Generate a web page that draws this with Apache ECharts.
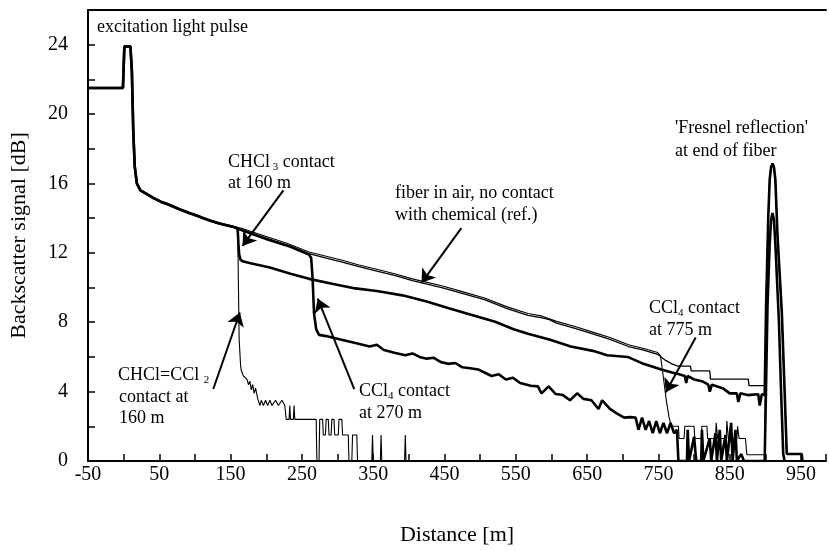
<!DOCTYPE html>
<html>
<head>
<meta charset="utf-8">
<title>OTDR backscatter traces</title>
<script src="https://cdn.jsdelivr.net/npm/echarts@6/dist/echarts.min.js"></script>
<style>
  html, body { margin: 0; padding: 0; background: #fff; }
  #chart { width: 829px; height: 551px; }
</style>
</head>
<body>
<div id="chart"></div>
<script>
// tick labels
var xTickLabels = [-50, 50, 150, 250, 350, 450, 550, 650, 750, 850, 950];
var yTickLabels = [0, 4, 8, 12, 16, 20, 24];

// common part of all traces: start level, excitation pulse, first 155 m
var commonStart = [[-50,21.5],[-1,21.5],[1,23.9],[9.5,23.9],[11.5,22.5],[13.5,19],[15.5,17],[18.5,16],[23.5,15.6],
  [32,15.4],[42,15.15],[52,14.95],[62,14.8],[79,14.5],[92,14.3],[102,14.15],[112,14.0],[122,13.85],[133,13.7],
  [143,13.6],[153,13.5],[158,13.45]];

// fiber in air (ref.)
var refTail = [[163,13.35],[178,13.15],[203,12.8],[229,12.45],[260,11.95],[284,11.7],[304,11.5],[330,11.2],[355,10.95],
  [380,10.7],[405,10.4],[418,10.27],[446,10.0],[476,9.65],[506,9.3],[537,8.8],[567,8.4],[587,8.25],[597,8.15],[607,7.95],
  [633,7.65],[660,7.3],[683,7.0],[708,6.6],[728,6.4],[749,6.15],[760,5.8],[769,5.6],[777,5.47],[795,5.47],[796,5.19],
  [822,5.19],[823,4.72],[876,4.72],[877,4.34],[899,4.34]];

// CCl4 contact at 775 m (thin, follows the reference first)
var ccl4At775Tail = [[163,13.45],[178,13.25],[203,12.9],[229,12.55],[260,12.05],[284,11.8],[304,11.6],[330,11.3],[355,11.05],
  [380,10.8],[405,10.5],[418,10.37],[446,10.1],[476,9.75],[506,9.4],[537,8.9],[567,8.5],[587,8.35],[607,8.05],[633,7.75],
  [660,7.4],[683,7.1],[708,6.7],[728,6.5],[749,6.25],[753,6.05],[757,4.8],[761,3.5],[765,2.5],[768,2.0],[778,2.0],
  [779,1.3],[786,1.3],[787,2.0],[800,2.0],[801,1.3],[810,1.3],[811,2.0],[818,2.0],[819,1.3],[830,1.3],[831,2.2],[833,1.3],
  [845,1.3],[846,2.3],[848,1.3],[860,1.3],[861,2.0],[863,1.3],[872,1.3],[874,0.36],[899,0.36]];

// CHCl3 contact at 160 m
var chcl3Tail = [[160,13.3],[161,12.5],[162,11.9],[164,11.6],[168,11.5],[178,11.4],[205,11.15],[234,10.8],[260,10.5],
  [294,10.2],[325,9.95],[355,9.8],[391,9.55],[425,9.2],[456,8.8],[486,8.45],[521,8.03],[547,7.6],[567,7.33],[597,7.0],
  [627,6.6],[658,6.35],[678,6.1],[707,6.0],[729,5.6],[754,5.28],[769,5.1],[779,5.0],[787,4.9],[789,4.5],[791,4.9],
  [800,4.7],[811,4.6],[820,4.4],[822,4.0],[825,4.4],[840,4.2],[850,3.9],[860,3.9],[862,3.4],[865,3.9],[875,3.8],
  [890,3.85],[892,3.2],[895,3.85],[899,3.8]];

// CCl4 contact at 270 m
var ccl4At270Tail = [[163,13.35],[203,12.75],[234,12.35],[260,11.9],[263,11.7],[265,10.5],[267,8.5],[270,7.6],[274,7.27],
  [284,7.2],[304,7.0],[325,6.8],[345,6.6],[355,6.7],[365,6.4],[381,6.23],[395,6.1],[405,6.2],[415,6.0],[425,5.9],
  [435,5.95],[445,5.7],[455,5.6],[465,5.65],[475,5.4],[486,5.35],[497,5.28],[506,5.1],[516,4.9],[526,5.0],[536,4.7],
  [546,4.8],[556,4.5],[571,4.34],[581,4.3],[586,3.9],[596,4.3],[606,3.86],[616,3.8],[626,3.5],[636,3.9],[645,3.58],
  [656,3.5],[666,3.0],[671,3.5],[682,3.0],[692,2.73],[702,2.5],[710,2.53],[718,2.5],[722,1.8],[727,2.5],[732,1.8],
  [737,2.3],[742,1.6],[747,2.3],[752,1.6],[757,2.2],[762,1.6],[767,2.2],[772,1.6],[776,1.8],[778,0],[790,0],[791,1.8],
  [793,0],[800,1.4],[803,0],[810,0],[811,1.8],[813,0],[822,1.3],[824,0],[830,1.6],[832,0],[836,1.8],[838,0],[844,1.5],
  [846,0],[852,2.2],[854,0],[858,1.8],[860,0],[866,0.4],[870,0],[899,0]];

// CHCl=CCl2 contact at 160 m
var chclCcl2Tail = [[160,13.3],[161,10],[162,7],[164,5.5],[165,5.2],[168,4.9],[173,4.7],[175,4.4],[177,4.6],[179,4.1],
  [181,4.4],[183,3.9],[185,4.2],[188,3.6],[191,3.2],[193,3.5],[196,3.2],[199,3.5],[202,3.2],[205,3.5],[208,3.2],
  [213,3.5],[217,3.2],[222,3.5],[226,3.2],[228,2.4],[232,2.4],[233,3.2],[234,2.4],[238,2.4],[239,3.2],[240,2.4],
  [270,2.4],[271,0],[274,0],[275,2.4],[279,2.4],[280,1.5],[283,1.5],[284,2.4],[287,2.4],[288,1.5],[291,1.5],[292,2.4],
  [295,2.4],[296,1.5],[301,1.5],[302,2.4],[306,2.4],[307,1.5],[315,1.5],[316,0],[320,0],[321,1.5],[327,1.5],[328,0],
  [348,0],[349,1.5],[350,0],[360,0],[361,1.5],[362,0],[394,0],[395,1.5],[396,0],[900,0]];

// Fresnel reflection peaks at end of fiber
var fresnelHigh = [[901,9],[904,14],[906,16.2],[908,16.95],[910,17.15],[912,16.95],[914,16.2],[917,13],[923,8.6],[927,4],
  [930,0.4],[951,0.4],[952,0]];
var fresnelLow = [[903,9],[906,12.5],[908,13.9],[910,14.3],[912,13.9],[914,12.5],[919,8],[922,4],[925,0.4],[927,0]];

// arrows [from, to] in data units
var arrows = [
  [[224,15.6],[166.7,12.4]],
  [[473.6,13.43],[417.8,10.27]],
  [[125.7,4.15],[163,8.56]],
  [[323.4,4.15],[272.2,9.36]],
  [[802.2,7.12],[760.3,3.96]]
];

var serif = "'Liberation Serif', 'Times New Roman', serif";

var chart = echarts.init(document.getElementById('chart'));

function trace(name, data, width) {
  return {
    name: name,
    type: 'line',
    data: data,
    symbol: 'none',
    showSymbol: false,
    animation: false,
    lineStyle: { color: '#000', width: width },
    emphasis: { disabled: true }
  };
}

function line(x, y, txt) {
  return {
    type: 'text', x: x, y: y, silent: true,
    style: {
      text: txt, fill: '#000', fontFamily: serif, fontSize: 18,
      verticalAlign: 'middle', align: 'left',
      rich: {
        n: { fontFamily: serif, fontSize: 18, lineHeight: 22, fill: '#000' },
        s: { fontFamily: serif, fontSize: 11, verticalAlign: 'bottom', lineHeight: 14, fill: '#000' }
      }
    }
  };
}

var refSeries = trace('ref', commonStart.concat(refTail, fresnelHigh), 1.3);
refSeries.markLine = {
  silent: true,
  symbol: ['none', 'arrow'],
  symbolSize: 13,
  label: { show: false },
  lineStyle: { color: '#000', width: 2, type: 'solid' },
  itemStyle: { color: '#000' },
  animation: false,
  data: arrows.map(function (a) { return [{ coord: a[0] }, { coord: a[1] }]; })
};

var option = {
  animation: false,
  grid: { left: 87, right: 0, top: 10, bottom: 83 },
  xAxis: [{
    type: 'value',
    min: -50, max: 985, interval: 50,
    name: 'Distance [m]',
    nameLocation: 'middle', nameGap: 63,
    nameTextStyle: { fontFamily: serif, fontSize: 22, color: '#000' },
    axisLine: { onZero: false, lineStyle: { color: '#000', width: 2 } },
    axisTick: { inside: true, length: 7, lineStyle: { color: '#000', width: 1.5 } },
    splitLine: { show: false },
    axisLabel: {
      margin: 4, color: '#000', fontFamily: serif, fontSize: 20,
      formatter: function (v) { return xTickLabels.indexOf(v) >= 0 ? String(v) : ''; }
    }
  }, {
    type: 'value', position: 'top',
    min: -50, max: 985,
    axisLine: { show: true, onZero: false, lineStyle: { color: '#000', width: 2 } },
    axisTick: { show: false }, axisLabel: { show: false }, splitLine: { show: false }
  }],
  yAxis: {
    type: 'value',
    min: 0, max: 26, interval: 2,
    name: 'Backscatter signal [dB]',
    nameLocation: 'middle', nameGap: 58, nameRotate: 90,
    nameTextStyle: { fontFamily: serif, fontSize: 22, color: '#000' },
    axisLine: { show: true, onZero: false, lineStyle: { color: '#000', width: 2 } },
    axisTick: { inside: true, length: 7, lineStyle: { color: '#000', width: 1.5 } },
    splitLine: { show: false },
    axisLabel: {
      margin: 20, color: '#000', fontFamily: serif, fontSize: 20,
      formatter: function (v) { return yTickLabels.indexOf(v) >= 0 ? String(v) : ''; }
    }
  },
  series: [
    refSeries,
    trace('CCl4 775 m', commonStart.concat(ccl4At775Tail, fresnelHigh), 1.1),
    trace('CHCl3 160 m', commonStart.concat(chcl3Tail, fresnelHigh), 2.6),
    trace('CCl4 270 m', commonStart.concat(ccl4At270Tail, fresnelLow), 2.6),
    trace('CHCl=CCl2 160 m', commonStart.concat(chclCcl2Tail), 1.1)
  ],
  graphic: [
    line(97, 27, '{n|excitation light pulse}'),
    line(228, 162, '{n|CHCl}{s| 3}{n| contact}'),
    line(228, 183, '{n|at 160 m}'),
    line(395, 193, '{n|fiber in air, no contact}'),
    line(395, 215, '{n|with chemical (ref.)}'),
    line(675, 128, "{n|'Fresnel reflection'}"),
    line(675, 151, '{n|at end of fiber}'),
    line(649, 308, '{n|CCl}{s|4}{n| contact}'),
    line(649, 330, '{n|at 775 m}'),
    line(118, 375, '{n|CHCl=CCl }{s|2}'),
    line(119, 397, '{n|contact at}'),
    line(119, 418, '{n|160 m}'),
    line(359, 391, '{n|CCl}{s|4}{n| contact}'),
    line(359, 413, '{n|at 270 m}')
  ]
};

chart.setOption(option);
</script>
</body>
</html>
